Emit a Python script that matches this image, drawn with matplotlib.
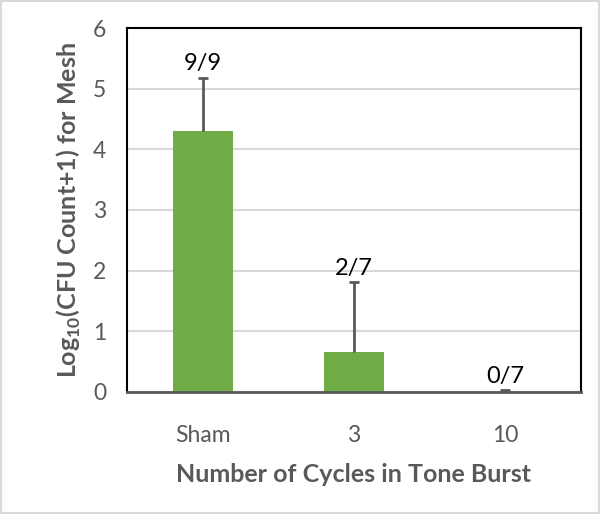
import numpy as np
import matplotlib.pyplot as plt
from matplotlib.patches import Rectangle

# data
categories = ['Sham', '3', '10']
means = [4.30, 0.66, 0.0]
upper_err = [0.88, 1.15, 0.03]
counts = ['9/9', '2/7', '0/7']

plt.rcParams['font.family'] = ['Lato', 'DejaVu Sans']
plt.rcParams['mathtext.fontset'] = 'custom'
plt.rcParams['mathtext.rm'] = 'Lato'
plt.rcParams['mathtext.bf'] = 'Lato:bold'

grey = '#595959'

fig = plt.figure(figsize=(6, 5.14), dpi=100)
ax = fig.add_axes([0.212, 0.2374, 0.756, 0.7081])

x = np.arange(len(categories))
ax.bar(x, means, width=0.4, color='#70AD47', zorder=2)
eb = ax.errorbar(x, means, yerr=[np.zeros(len(means)), upper_err], fmt='none',
                 ecolor=grey, elinewidth=2, capsize=3.5, capthick=2, zorder=3)
eb[1][0].set_visible(False)  # no lower caps

for xi, m, e, c in zip(x, means, upper_err, counts):
    ax.text(xi, m + e + 0.06, c, ha='center', va='bottom', fontsize=17, color='black')

ax.set_xlim(-0.5, 2.5)
ax.set_ylim(0, 6)
ax.set_yticks(range(7))
ax.set_xticks(x)
ax.set_xticklabels(categories)
ax.tick_params(length=0, labelsize=16.5, colors=grey, pad=15)
ax.tick_params(axis='x', pad=24)
ax.grid(axis='y', color='#D9D9D9', linewidth=1.5, zorder=0)
ax.set_axisbelow(True)

for side in ['left', 'right', 'top']:
    ax.spines[side].set_color('black')
    ax.spines[side].set_linewidth(1.5)
ax.spines['bottom'].set_color(grey)
ax.spines['bottom'].set_linewidth(2)

ax.set_xlabel('Number of Cycles in Tone Burst', fontsize=18, fontweight='bold',
              color=grey, labelpad=12)
ax.set_ylabel(r'Log$_{\mathbf{10}}$(CFU Count+1) for Mesh', fontsize=18,
              fontweight='bold', color=grey, labelpad=7)

fig.patches.append(Rectangle((0.002, 0.002), 0.996, 0.996, transform=fig.transFigure,
                             fill=False, edgecolor='#D9D9D9', linewidth=1.5))

fig.savefig('out.png', dpi=100)
